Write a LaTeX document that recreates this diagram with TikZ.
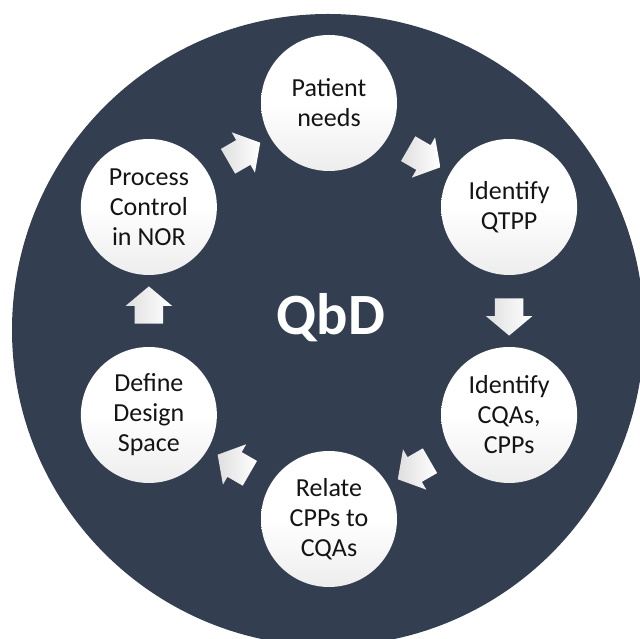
\documentclass[tikz,border=0pt]{standalone}
\usepackage{fontspec}
\setmainfont{Carlito}
\usetikzlibrary{shapes.arrows,calc}
\definecolor{qbdnavy}{RGB}{51,63,80}
\definecolor{steptext}{RGB}{20,20,20}

\begin{document}
\begin{tikzpicture}[
  stepcircle/.style={circle, minimum size=3.4cm, inner sep=0pt, align=center,
    top color=white, bottom color=gray!14, middle color=white,
    text=steptext, font=\fontsize{18.5}{21.3}\selectfont},
  cyclearrow/.style={single arrow, minimum height=0.93cm, inner xsep=0pt, inner ysep=0.35cm,
    single arrow head extend=0.225cm, single arrow tip angle=100,
    left color=gray!25, right color=white}
]
\clip (-8.225,-8.2) rectangle (7.775,7.775);
\fill[qbdnavy] (-0.025,-0.475) circle (7.9);

\node[stepcircle] (pn) at (90:5.2) {Patient\\needs};
\node[stepcircle] (qtpp) at (30:5.2) {Identify\\QTPP};
\node[stepcircle] (cqa) at (-30:5.2) {Identify\\CQAs,\\CPPs};
\node[stepcircle] (rel) at (-90:5.2) {Relate\\CPPs to\\CQAs};
\node[stepcircle] (ds) at (210:5.2) {Define\\Design\\Space};
\node[stepcircle] (pc) at (150:5.2) {Process\\Control\\in NOR};

\node[text=white, font=\fontsize{41.6}{48}\selectfont\bfseries] (qbd) at (0.05,-0.175) {QbD};

\node[cyclearrow, rotate=-30] (a1) at ($(pn)!0.5!(qtpp)$) {};
\node[cyclearrow, rotate=-90] (a2) at ($(qtpp)!0.5!(cqa)$) {};
\node[cyclearrow, rotate=-150] (a3) at ($(cqa)!0.5!(rel)$) {};
\node[cyclearrow, rotate=150] (a4) at ($(rel)!0.5!(ds)$) {};
\node[cyclearrow, rotate=90] (a5) at ($(ds)!0.5!(pc)$) {};
\node[cyclearrow, rotate=30] (a6) at ($(pc)!0.5!(pn)$) {};
\end{tikzpicture}
\end{document}
